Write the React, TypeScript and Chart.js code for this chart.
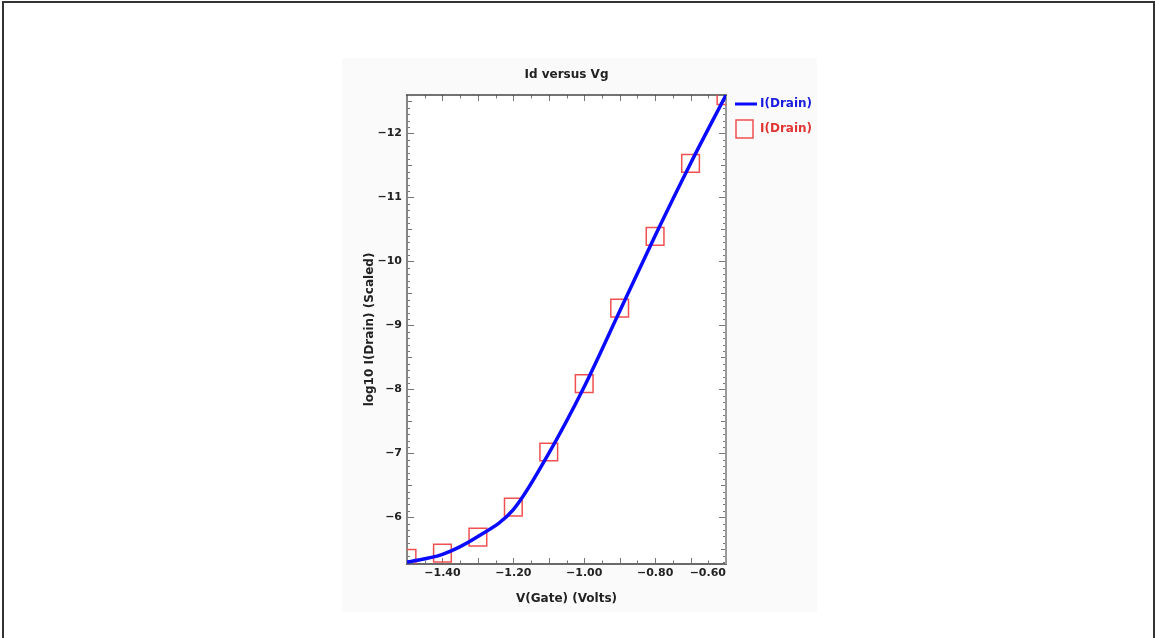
import React, { useEffect, useRef } from 'react';
import { Chart, registerables } from 'chart.js';

Chart.register(...registerables);

// ---- data ----
const gateVolts = [-1.5, -1.4, -1.3, -1.2, -1.1, -1.0, -0.9, -0.8, -0.7, -0.6];
const simulatedLogId = [-5.3, -5.42, -5.7, -6.12, -7.0, -8.04, -9.22, -10.4, -11.53, -12.6];
const measuredLogId = [-5.36, -5.44, -5.69, -6.16, -7.02, -8.09, -9.27, -10.39, -11.53, -12.59];
const xTickValues = [-1.4, -1.2, -1.0, -0.8, -0.6];
const yTickValues = [-12, -11, -10, -9, -8, -7, -6];
const xRange = [-1.5, -0.6];
const yRange = [-12.6, -5.27];
const seriesLabels = ['I(Drain)', 'I(Drain)'];
const chartTitle = 'Id versus Vg';
const xTitle = 'V(Gate) (Volts)';
const yTitle = 'log10 I(Drain) (Scaled)';

const FONT = 'DejaVu Sans';
const LINE_BLUE = '#0a0aff';
const SQUARE_RED = '#f05050';
const LEGEND_BLUE = '#1a1ae0';
const LEGEND_RED = '#e03535';
const TEXT = '#222222';

const fmtMinus = (v: number, digits: number) =>
  (v < 0 ? '\u2212' : '') + Math.abs(v).toFixed(digits);

const frameTicksPlugin = {
  id: 'frameTicks',
  beforeDatasetsDraw(chart: any) {
    const { ctx, chartArea: a } = chart;
    const xs = chart.scales.x;
    const ys = chart.scales.y;
    ctx.save();
    // tick marks (inward, mirrored)
    ctx.strokeStyle = '#777777';
    ctx.lineWidth = 1;
    const xStep = 0.05;
    const nX = Math.round((xRange[1] - xRange[0]) / xStep);
    for (let i = 0; i <= nX; i++) {
      const v = xRange[0] + i * xStep;
      const major = Math.abs(v / 0.1 - Math.round(v / 0.1)) < 1e-6;
      const len = major ? 6 : 3.5;
      const px = Math.round(xs.getPixelForValue(v)) + 0.5;
      ctx.beginPath();
      ctx.moveTo(px, a.bottom);
      ctx.lineTo(px, a.bottom - len);
      ctx.moveTo(px, a.top);
      ctx.lineTo(px, a.top + len);
      ctx.stroke();
    }
    const yStep = 0.1;
    const yStart = Math.ceil(yRange[0] / yStep) * yStep;
    const nY = Math.floor((yRange[1] - yStart) / yStep + 1e-6);
    for (let i = 0; i <= nY; i++) {
      const v = yStart + i * yStep;
      const major = Math.abs(v - Math.round(v)) < 1e-6;
      const half = Math.abs(v * 2 - Math.round(v * 2)) < 1e-6;
      const len = major ? 7 : half ? 5 : 3;
      const py = Math.round(ys.getPixelForValue(v)) + 0.5;
      ctx.beginPath();
      ctx.moveTo(a.left, py);
      ctx.lineTo(a.left + len, py);
      ctx.moveTo(a.right, py);
      ctx.lineTo(a.right - len, py);
      ctx.stroke();
    }
    // frame
    ctx.lineWidth = 2;
    ctx.strokeStyle = '#858585';
    ctx.beginPath();
    ctx.moveTo(a.left, a.top);
    ctx.lineTo(a.left, a.bottom);
    ctx.stroke();
    ctx.strokeStyle = '#6a6a6a';
    ctx.beginPath();
    ctx.moveTo(a.left - 1, a.bottom);
    ctx.lineTo(a.right + 1, a.bottom);
    ctx.stroke();
    ctx.strokeStyle = '#9a9a9a';
    ctx.beginPath();
    ctx.moveTo(a.right, a.top);
    ctx.lineTo(a.right, a.bottom);
    ctx.stroke();
    ctx.strokeStyle = '#444444';
    ctx.lineWidth = 1.5;
    ctx.beginPath();
    ctx.moveTo(a.left - 1, a.top);
    ctx.lineTo(a.right + 1, a.top);
    ctx.stroke();
    ctx.restore();
  },
  beforeDraw(chart: any) {
    const { ctx, chartArea: a } = chart;
    ctx.save();
    ctx.fillStyle = '#ffffff';
    ctx.fillRect(a.left, a.top, a.right - a.left, a.bottom - a.top);
    ctx.restore();
  },
};

const sideLegendPlugin = {
  id: 'sideLegend',
  afterDraw(chart: any) {
    const { ctx, chartArea: a } = chart;
    const ds = chart.data.datasets;
    ctx.save();
    ctx.font = `bold 12px "${FONT}"`;
    ctx.textAlign = 'left';
    ctx.textBaseline = 'middle';
    // item 1: line
    const y1 = a.top + 9;
    ctx.strokeStyle = ds[0].borderColor;
    ctx.lineWidth = 3;
    ctx.beginPath();
    ctx.moveTo(a.right + 9, y1);
    ctx.lineTo(a.right + 31, y1);
    ctx.stroke();
    ctx.fillStyle = LEGEND_BLUE;
    ctx.fillText(ds[0].label, a.right + 34, y1);
    // item 2: square
    const y2 = a.top + 34;
    ctx.strokeStyle = ds[1].borderColor;
    ctx.lineWidth = 1.5;
    ctx.strokeRect(a.right + 10, y2 - 9, 17, 18);
    ctx.fillStyle = LEGEND_RED;
    ctx.fillText(ds[1].label, a.right + 34, y2);
    ctx.restore();
  },
};

export default function App() {
  const canvasRef = useRef<HTMLCanvasElement | null>(null);

  useEffect(() => {
    const canvas = canvasRef.current;
    if (!canvas) return;
    const chart = new Chart(canvas, {
      type: 'line',
      data: {
        datasets: [
          {
            label: seriesLabels[0],
            data: gateVolts.map((x, i) => ({ x, y: simulatedLogId[i] })),
            borderColor: LINE_BLUE,
            borderWidth: 3.5,
            pointRadius: 0,
            cubicInterpolationMode: 'monotone',
            fill: false,
          },
          {
            label: seriesLabels[1],
            data: gateVolts.map((x, i) => ({ x, y: measuredLogId[i] })),
            showLine: false,
            borderColor: SQUARE_RED,
            backgroundColor: 'rgba(0,0,0,0)',
            pointStyle: 'rect',
            pointRadius: 12.5,
            pointBorderWidth: 1.5,
            pointBorderColor: SQUARE_RED,
            pointBackgroundColor: 'rgba(0,0,0,0)',
            clip: 0,
          } as any,
        ],
      },
      options: {
        responsive: false,
        animation: false,
        devicePixelRatio: 1,
        layout: { padding: { left: 355, right: 429, top: 60, bottom: 30 } },
        plugins: {
          legend: { display: false },
          tooltip: { enabled: false },
          title: {
            display: true,
            text: chartTitle,
            fullSize: false,
            color: TEXT,
            font: { family: FONT, size: 12, weight: 'bold' },
            padding: { top: 7.8, bottom: 12.8 },
          },
        },
        scales: {
          x: {
            type: 'linear',
            min: xRange[0],
            max: xRange[1],
            grid: { display: false, drawTicks: false },
            border: { display: false },
            afterBuildTicks: (scale: any) => {
              scale.ticks = [{ value: xRange[0] }, ...xTickValues.map((v) => ({ value: v }))];
            },
            afterFit: (scale: any) => {
              scale.height = 44;
            },
            ticks: {
              autoSkip: false,
              maxRotation: 0,
              align: 'inner',
              padding: 3,
              color: TEXT,
              font: { family: FONT, size: 11, weight: 'bold' },
              callback: (v: any) => (Math.abs(Number(v) - xRange[0]) < 1e-9 ? '' : fmtMinus(Number(v), 2)),
            },
            title: {
              display: true,
              text: xTitle,
              color: TEXT,
              font: { family: FONT, size: 12, weight: 'bold' },
              padding: { top: 0, bottom: 1.8 },
            },
          },
          y: {
            type: 'linear',
            reverse: true,
            min: yRange[0],
            max: yRange[1],
            grid: { display: false, drawTicks: false },
            border: { display: false },
            afterBuildTicks: (scale: any) => {
              scale.ticks = yTickValues.map((v) => ({ value: v }));
            },
            afterFit: (scale: any) => {
              scale.width = 52;
            },
            ticks: {
              autoSkip: false,
              padding: 5,
              color: TEXT,
              font: { family: FONT, size: 11, weight: 'bold' },
              callback: (v: any) => fmtMinus(Number(v), 0),
            },
            title: {
              display: true,
              text: yTitle,
              color: TEXT,
              font: { family: FONT, size: 12, weight: 'bold' },
              padding: { top: 7.8, bottom: 0 },
            },
          },
        },
      } as any,
      plugins: [frameTicksPlugin, sideLegendPlugin],
    });
    return () => chart.destroy();
  }, []);

  return (
    <div
      style={{
        position: 'absolute',
        left: 0,
        top: 0,
        width: 1155,
        height: 638,
        overflow: 'hidden',
        background: '#ffffff',
      }}
    >
      <div
        style={{
          position: 'absolute',
          left: 2,
          top: 1,
          width: 1153,
          height: 700,
          boxSizing: 'border-box',
          border: '2px solid #333333',
        }}
      />
      <div
        style={{
          position: 'absolute',
          left: 342,
          top: 58,
          width: 475,
          height: 554,
          background: '#fafafa',
        }}
      />
      <canvas
        ref={canvasRef}
        width={1155}
        height={638}
        style={{ position: 'absolute', left: 0, top: 0, width: 1155, height: 638 }}
      />
    </div>
  );
}
